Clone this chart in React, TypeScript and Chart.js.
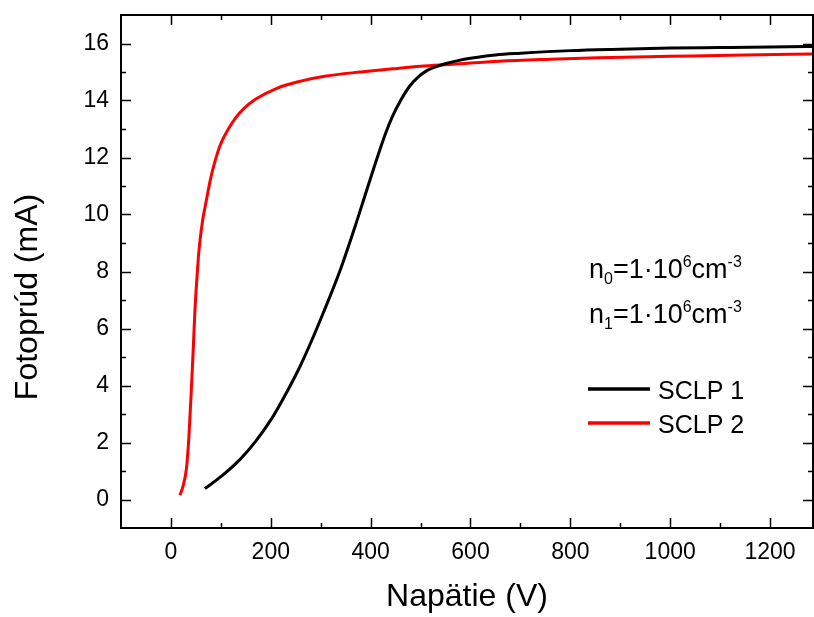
import React, { useEffect, useRef } from "react";
import { Chart, registerables } from "chart.js";
Chart.register(...registerables);

const sclp1Voltage = [68, 100, 138, 170, 204, 230, 258, 280, 304, 338, 372, 404, 430, 444, 460, 478, 495, 511, 530, 551, 575, 600, 650, 700, 800, 900, 1000, 1100, 1200, 1290];
const sclp1Current = [0.38, 0.8, 1.4, 2.05, 2.9, 3.7, 4.65, 5.5, 6.5, 8.0, 9.75, 11.5, 12.85, 13.45, 14.0, 14.5, 14.82, 15.03, 15.18, 15.3, 15.4, 15.48, 15.6, 15.66, 15.75, 15.8, 15.84, 15.86, 15.88, 15.9];
const sclp2Voltage = [18, 24, 31, 36, 41, 45, 48, 52, 55, 58, 64, 71, 80, 88, 99, 115, 130, 145, 170, 211, 260, 311, 380, 444, 500, 564, 657, 760, 856, 1000, 1150, 1290];
const sclp2Current = [0.15, 0.45, 1.08, 2.2, 3.9, 5.4, 6.6, 7.75, 8.5, 9.05, 9.85, 10.5, 11.3, 11.85, 12.45, 13.0, 13.4, 13.7, 14.05, 14.42, 14.68, 14.86, 15.0, 15.11, 15.2, 15.27, 15.38, 15.45, 15.5, 15.55, 15.6, 15.63];

const seriesLabels = ["SCLP 1", "SCLP 2"];
const seriesColors = ["#000000", "#ff0000"];
const xTickValues = [0, 200, 400, 600, 800, 1000, 1200];
const xMinorTicks = [100, 300, 500, 700, 900, 1100];
const yTickValues = [0, 2, 4, 6, 8, 10, 12, 14, 16];
const yMinorTicks = [1, 3, 5, 7, 9, 11, 13, 15];
const xTitle = "Napätie (V)";
const yTitle = "Fotoprúd (mA)";
const annotationLines = [
  { base: "n", sub: "0", rest: "=1·10", sup: "6", unit: "cm", unitSup: "-3" },
  { base: "n", sub: "1", rest: "=1·10", sup: "6", unit: "cm", unitSup: "-3" },
];

const FONT = '"Liberation Sans", Arial, sans-serif';

const framePlugin = {
  id: "frame",
  afterDatasetsDraw(chart: any) {
    const { ctx, chartArea } = chart;
    const xs = chart.scales.x;
    const ys = chart.scales.y;
    const { left, right, top, bottom } = chartArea;
    ctx.save();
    ctx.strokeStyle = "#000";
    ctx.lineWidth = 2;
    ctx.strokeRect(left, top, right - left, bottom - top);
    ctx.lineWidth = 1.5;
    const major = 10;
    const minor = 5;
    const drawX = (v: number, len: number) => {
      const px = Math.round(xs.getPixelForValue(v)) + 0.5;
      ctx.beginPath();
      ctx.moveTo(px, bottom);
      ctx.lineTo(px, bottom - len);
      ctx.moveTo(px, top);
      ctx.lineTo(px, top + len);
      ctx.stroke();
    };
    const drawY = (v: number, len: number) => {
      const py = Math.round(ys.getPixelForValue(v)) + 0.5;
      ctx.beginPath();
      ctx.moveTo(left, py);
      ctx.lineTo(left + len, py);
      ctx.moveTo(right, py);
      ctx.lineTo(right - len, py);
      ctx.stroke();
    };
    xTickValues.forEach((v) => drawX(v, major));
    xMinorTicks.forEach((v) => drawX(v, minor));
    yTickValues.forEach((v) => drawY(v, major));
    yMinorTicks.forEach((v) => drawY(v, minor));

    // y title
    ctx.fillStyle = "#000";
    ctx.font = `32px ${FONT}`;
    ctx.textAlign = "center";
    ctx.textBaseline = "middle";
    ctx.save();
    ctx.translate(28, 297);
    ctx.rotate(-Math.PI / 2);
    ctx.fillText(yTitle, 0, 0);
    ctx.restore();

    // annotations
    ctx.textAlign = "left";
    ctx.textBaseline = "alphabetic";
    const mainSize = 27;
    const smallSize = 16;
    const baselines = [278, 323];
    annotationLines.forEach((ln, i) => {
      let x = 589;
      const y = baselines[i];
      ctx.font = `${mainSize}px ${FONT}`;
      ctx.fillText(ln.base, x, y);
      x += ctx.measureText(ln.base).width;
      ctx.font = `${smallSize}px ${FONT}`;
      ctx.fillText(ln.sub, x, y + 6);
      x += ctx.measureText(ln.sub).width;
      ctx.font = `${mainSize}px ${FONT}`;
      ctx.fillText(ln.rest, x, y);
      x += ctx.measureText(ln.rest).width;
      ctx.font = `${smallSize}px ${FONT}`;
      ctx.fillText(ln.sup, x, y - 11);
      x += ctx.measureText(ln.sup).width;
      ctx.font = `${mainSize}px ${FONT}`;
      ctx.fillText(ln.unit, x, y);
      x += ctx.measureText(ln.unit).width;
      ctx.font = `${smallSize}px ${FONT}`;
      ctx.fillText(ln.unitSup, x, y - 11);
    });

    // legend
    const legendY = [389, 423];
    ctx.font = `25px ${FONT}`;
    ctx.lineWidth = 3.5;
    seriesLabels.forEach((lab, i) => {
      ctx.strokeStyle = seriesColors[i];
      ctx.beginPath();
      ctx.moveTo(588, legendY[i]);
      ctx.lineTo(650, legendY[i]);
      ctx.stroke();
      ctx.fillStyle = "#000";
      ctx.fillText(lab, 658, legendY[i] + 10);
    });
    ctx.restore();
  },
};

export default function App() {
  const ref = useRef<HTMLCanvasElement>(null);
  useEffect(() => {
    if (!ref.current) return;
    const chart = new Chart(ref.current, {
      type: "line",
      data: {
        datasets: [
          {
            label: seriesLabels[0],
            data: sclp1Voltage.map((v, i) => ({ x: v, y: sclp1Current[i] })),
            borderColor: seriesColors[0],
            borderWidth: 3,
            pointRadius: 0,
            cubicInterpolationMode: "monotone",
            fill: false,
          },
          {
            label: seriesLabels[1],
            data: sclp2Voltage.map((v, i) => ({ x: v, y: sclp2Current[i] })),
            borderColor: seriesColors[1],
            borderWidth: 3,
            pointRadius: 0,
            cubicInterpolationMode: "monotone",
            fill: false,
          },
        ],
      },
      options: {
        responsive: false,
        animation: false,
        layout: { padding: { top: 15, right: 1, bottom: 0, left: 0 } },
        plugins: { legend: { display: false }, tooltip: { enabled: false } },
        scales: {
          x: {
            type: "linear",
            min: -100,
            max: 1286,
            afterFit: (s: any) => {
              s.height = 89;
              s.paddingLeft = 0;
              s.paddingRight = 0;
            },
            afterBuildTicks: (s: any) => {
              s.ticks = xTickValues.map((v) => ({ value: v }));
            },
            grid: { display: false, drawTicks: false },
            border: { display: false },
            ticks: {
              padding: 11,
              color: "#000",
              font: { family: FONT, size: 23 },
              maxRotation: 0,
              autoSkip: false,
              callback: (v: any) => String(v),
            },
            title: {
              display: true,
              text: xTitle,
              color: "#000",
              font: { family: FONT, size: 32 },
              padding: { top: 0, bottom: 1 },
            },
          },
          y: {
            type: "linear",
            min: -1,
            max: 17,
            afterFit: (s: any) => {
              s.width = 121;
              s.paddingTop = 0;
              s.paddingBottom = 0;
            },
            afterBuildTicks: (s: any) => {
              s.ticks = yTickValues.map((v) => ({ value: v }));
            },
            grid: { display: false, drawTicks: false },
            border: { display: false },
            ticks: {
              padding: 12,
              color: "#000",
              font: { family: FONT, size: 23 },
              autoSkip: false,
              callback: (v: any) => String(v),
            },
          },
        },
      },
      plugins: [framePlugin],
    });
    return () => chart.destroy();
  }, []);
  return (
    <div style={{ position: "absolute", left: 0, top: 0, width: 814, height: 617, background: "#fff" }}>
      <canvas ref={ref} width={814} height={617} style={{ display: "block" }} />
    </div>
  );
}
